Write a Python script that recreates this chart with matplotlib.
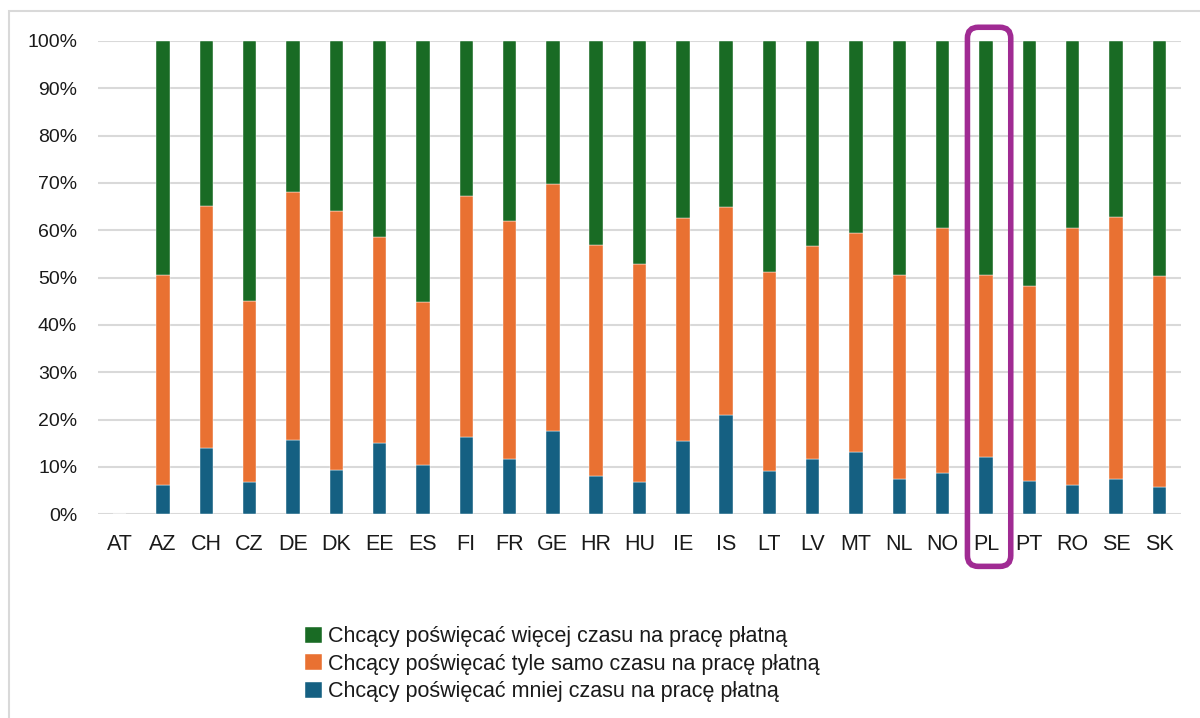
import matplotlib.pyplot as plt
from matplotlib.patches import FancyBboxPatch, Rectangle
from matplotlib.ticker import PercentFormatter
import numpy as np

plt.rcParams['font.family'] = ['Liberation Sans', 'DejaVu Sans']

# data (percent); AT has no data
countries = ['AT', 'AZ', 'CH', 'CZ', 'DE', 'DK', 'EE', 'ES', 'FI', 'FR', 'GE', 'HR', 'HU',
             'IE', 'IS', 'LT', 'LV', 'MT', 'NL', 'NO', 'PL', 'PT', 'RO', 'SE', 'SK']
less = [0, 6.2, 14.0, 6.9, 15.7, 9.4, 15.1, 10.5, 16.4, 11.7, 17.6, 8.1, 6.9,
        15.5, 21.0, 9.2, 11.7, 13.2, 7.5, 8.8, 12.1, 7.1, 6.2, 7.5, 5.8]
same_cum = [0, 50.6, 65.1, 45.1, 68.1, 64.1, 58.6, 44.9, 67.3, 62.0, 69.8, 56.9, 52.9,
            62.6, 64.9, 51.2, 56.7, 59.5, 50.6, 60.5, 50.6, 48.3, 60.5, 62.8, 50.4]
total = [0] + [100] * 24

same = [s - l for s, l in zip(same_cum, less)]
more = [t - s for t, s in zip(total, same_cum)]

labels = ['Chcący poświęcać więcej czasu na pracę płatną',
          'Chcący poświęcać tyle samo czasu na pracę płatną',
          'Chcący poświęcać mniej czasu na pracę płatną']
c_more, c_same, c_less = '#196B24', '#E97132', '#156082'
highlight = 'PL'

fig = plt.figure(figsize=(12, 7.18), dpi=100)
ax = fig.add_axes([98 / 1200, 1 - 514.3 / 718, 1083 / 1200, 473.3 / 718])

x = np.arange(len(countries))
w = 0.31
b_less = ax.bar(x, less, w, color=c_less, zorder=3, edgecolor='white', linewidth=0.3)
b_same = ax.bar(x, same, w, bottom=less, color=c_same, zorder=3, edgecolor='white', linewidth=0.3)
b_more = ax.bar(x, more, w, bottom=same_cum, color=c_more, zorder=3, edgecolor='white', linewidth=0.3)

ax.set_xlim(-0.5, len(countries) - 0.5)
ax.set_ylim(0, 100)
ax.set_yticks(np.arange(0, 101, 10))
ax.yaxis.set_major_formatter(PercentFormatter(decimals=0))
ax.set_xticks(x)
ax.set_xticklabels(countries, fontsize=15.5)
ax.tick_params(axis='y', labelsize=14, length=0, pad=15, labelcolor='#1a1a1a')
ax.tick_params(axis='x', length=0, pad=14, labelcolor='#1a1a1a')
ax.grid(axis='y', color='#d9d9d9', linewidth=1.5, zorder=0)
for s in ax.spines.values():
    s.set_visible(False)

# highlight box around PL (1 category = 43.3 px, 1 % = 4.73 px)
i = countries.index(highlight)
box = FancyBboxPatch((i - 0.43, -11.0), 1.0, 113.9,
                     boxstyle='round,pad=0,rounding_size=0.25',
                     mutation_aspect=43.32 / 4.733,
                     fill=False, edgecolor='#A02B93', linewidth=4,
                     clip_on=False, zorder=5)
ax.add_patch(box)

# outer chart frame
fig.patches.append(Rectangle((9 / 1200, -0.1), 1.2, 1 - 11 / 718 + 0.1,
                             transform=fig.transFigure, fill=False,
                             edgecolor='#d9d9d9', linewidth=1.5))

leg = fig.legend([b_more, b_same, b_less], labels, loc='upper left',
                 bbox_to_anchor=(286 / 1200, 1 - 607 / 718), frameon=False,
                 fontsize=15.5, handlelength=0.75, handleheight=0.75,
                 handletextpad=0.3, labelspacing=0.3, labelcolor='#1a1a1a')

fig.savefig('out.png', dpi=100)
